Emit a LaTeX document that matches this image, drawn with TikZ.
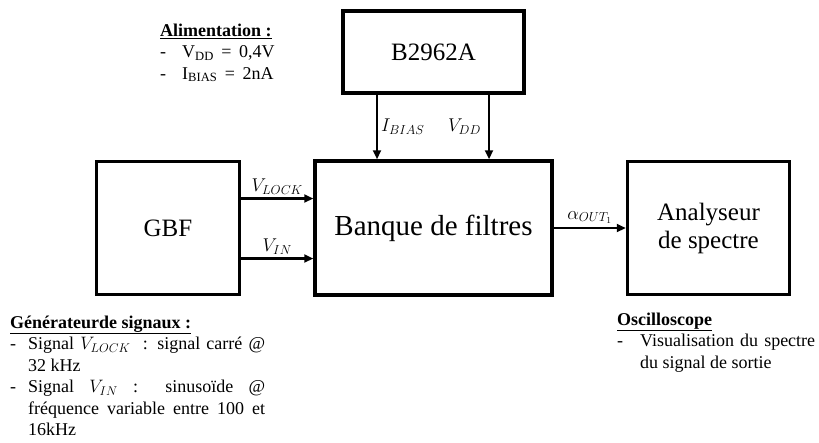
\RequirePackage{fix-cm}
\documentclass[tikz,border=0pt]{standalone}
\usepackage{fontspec}
\setmainfont{Liberation Serif}
\usepackage{array}
\usetikzlibrary{positioning,arrows.meta}
\tikzset{
  bloc/.style={draw, line width=3.5pt, align=center, inner sep=0pt},
  fleche/.style={line width=2.2pt, -{Triangle[length=9pt,width=8pt]}},
  etiq/.style={font=\fontsize{18.5}{21}\selectfont, inner sep=3pt},
  note/.style={anchor=north west, inner sep=0pt, font=\fontsize{18}{21.5}\selectfont},
}

\begin{document}
\begin{tikzpicture}[x=1pt,y=-1pt]
\useasboundingbox (0,0) rectangle (819,442);
% blocs
\node[bloc, minimum width=237pt, minimum height=134pt,
  font=\fontsize{29}{34}\selectfont] (banque) at (433.5,228) {Banque de filtres};
\node[bloc, minimum width=143pt, minimum height=133pt,
  font=\fontsize{25}{29}\selectfont, left=72pt of banque] (gbf) {GBF};
\node[bloc, minimum width=162pt, minimum height=133pt,
  font=\fontsize{25}{28}\selectfont, right=72pt of banque] (analyseur) {Analyseur\\de spectre};
\node[bloc, minimum width=181pt, minimum height=82pt,
  font=\fontsize{25}{29}\selectfont, above=64.5pt of banque] (alim) {B2962A};
% liaisons
\draw[fleche] ([xshift=-56.5pt]alim.south) -- node[etiq, right]{$I_{BIAS}$}
  ([xshift=-56.5pt]alim.south |- banque.north);
\draw[fleche] ([xshift=55.5pt]alim.south) -- node[etiq, left, xshift=-4pt]{$V_{DD}$}
  ([xshift=55.5pt]alim.south |- banque.north);
\draw[fleche] ([yshift=29.5pt]gbf.east) -- node[etiq, above]{$V_{LOCK}$}
  ([yshift=29.5pt]gbf.east -| banque.west);
\draw[fleche] ([yshift=-30.5pt]gbf.east) -- node[etiq, above]{$V_{IN}$}
  ([yshift=-30.5pt]gbf.east -| banque.west);
\draw[fleche] (banque.east) -- node[etiq, above]{$\alpha_{OUT_1}$} (analyseur.west);
% notes
\node[note] (notealim) at (160,21) {%
  \begin{tabular}{@{}p{22pt}@{}l@{}}
  \multicolumn{2}{@{}l@{}}{\underline{\textbf{Alimentation :}}}\\
  - & V\textsubscript{DD} \,=\, 0,4V\\
  - & I\textsubscript{BIAS} \,=\, 2nA
  \end{tabular}};
\node[note] (notegbf) at (10,313) {%
  \begin{tabular}{@{}p{18pt}@{}p{237pt}@{}}
  \multicolumn{2}{@{}l@{}}{\underline{\textbf{Générateurde signaux :}}}\\
  - & Signal $V_{LOCK}$ \ : signal carré @\linebreak 32 kHz\\
  - & Signal $V_{IN}$ : sinusoïde @ fréquence variable entre 100 et 16kHz
  \end{tabular}};
\node[note] (noteosc) at (617,310) {%
  \begin{tabular}{@{}p{23pt}@{}p{175pt}@{}}
  \multicolumn{2}{@{}l@{}}{\underline{\textbf{Oscilloscope}}}\\
  - & Visualisation du spectre du signal de sortie
  \end{tabular}};
\end{tikzpicture}
\end{document}
